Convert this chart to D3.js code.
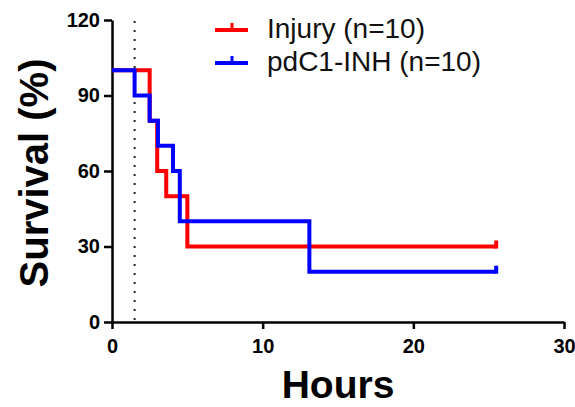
<!DOCTYPE html>
<html>
<head>
<meta charset="utf-8">
<script src="https://cdn.jsdelivr.net/npm/d3@7"></script>
<style>
  body { margin: 0; background: #fff; }
  svg { display: block; font-family: "Liberation Sans", Arial, sans-serif; }
</style>
</head>
<body>
<div id="chart"></div>
<script>
// ==== DATA ====
const injuryHours  = [0, 2.5, 3.0, 3.6, 5.0, 25.5];
const injuryValues = [100, 80, 60, 50, 30, 30];
const inhHours     = [0, 1.5, 2.5, 3.05, 4.05, 4.5, 13.1, 25.5];
const inhValues    = [100, 90, 80, 70, 60, 40, 20, 20];
const xTicks = [0, 10, 20, 30];
const yTicks = [0, 30, 60, 90, 120];
const markerHour = 1.5; // dotted vertical line
const seriesNames = ["Injury (n=10)", "pdC1-INH (n=10)"];
const seriesColors = ["#ff0000", "#0000ff"];

// ==== SIZE ====
const width = 575, height = 407;
const margin = { top: 20, right: 11, bottom: 85, left: 112 };

const x = d3.scaleLinear().domain([0, 30]).range([margin.left, width - margin.right]);
const y = d3.scaleLinear().domain([0, 120]).range([height - margin.bottom, margin.top]);

const svg = d3.select("#chart").append("svg")
  .attr("width", width)
  .attr("height", height);

// dotted marker line
svg.append("line")
  .attr("x1", x(markerHour)).attr("x2", x(markerHour))
  .attr("y1", y(120) + 1).attr("y2", y(0))
  .attr("stroke", "#222")
  .attr("stroke-width", 2)
  .attr("stroke-dasharray", "2 7");

// Axes
const gx = svg.append("g")
  .attr("transform", `translate(0,${y(0)})`)
  .call(d3.axisBottom(x).tickValues(xTicks).tickSize(7).tickSizeOuter(0).tickPadding(10));
const gy = svg.append("g")
  .attr("transform", `translate(${x(0)},0)`)
  .call(d3.axisLeft(y).tickValues(yTicks).tickSize(8).tickSizeOuter(0).tickPadding(4));

[gx, gy].forEach(g => {
  g.select(".domain").attr("stroke", "#000").attr("stroke-width", 2.5);
  g.selectAll(".tick line").attr("stroke", "#000").attr("stroke-width", 2.5);
  g.selectAll(".tick text")
    .attr("fill", "#000")
    .attr("font-family", "Liberation Sans, Arial, sans-serif")
    .attr("font-weight", "bold")
    .attr("font-size", 20);
});

// Axis labels
svg.append("text")
  .attr("x", (x(0) + x(30)) / 2)
  .attr("y", 398)
  .attr("text-anchor", "middle")
  .attr("font-weight", "bold")
  .attr("font-size", 39)
  .text("Hours");

svg.append("text")
  .attr("transform", `translate(48,${(y(0) + y(120)) / 2 + 2}) rotate(-90)`)
  .attr("text-anchor", "middle")
  .attr("font-weight", "bold")
  .attr("font-size", 40)
  .text("Survival (%)");

// Step lines
const step = d3.line()
  .x(d => x(d[0]))
  .y(d => y(d[1]))
  .curve(d3.curveStepAfter);

const series = [
  { hours: injuryHours, values: injuryValues },
  { hours: inhHours, values: inhValues }
];

series.forEach((s, i) => {
  const pts = s.hours.map((h, j) => [h, s.values[j]]);
  svg.append("path")
    .attr("d", step(pts))
    .attr("fill", "none")
    .attr("stroke", seriesColors[i])
    .attr("stroke-width", 4);
  // censored tick at the end
  const last = pts[pts.length - 1];
  svg.append("line")
    .attr("x1", x(last[0])).attr("x2", x(last[0]))
    .attr("y1", y(last[1]) + 2).attr("y2", y(last[1]) - 6)
    .attr("stroke", seriesColors[i])
    .attr("stroke-width", 4);
});

// Legend
const legend = svg.append("g").attr("transform", "translate(215,30)");
const rows = legend.selectAll("g.row")
  .data(seriesNames)
  .enter().append("g")
  .attr("transform", (d, i) => `translate(0,${i * 33})`);
rows.append("line")
  .attr("x1", 0).attr("x2", 33)
  .attr("stroke", (d, i) => seriesColors[i])
  .attr("stroke-width", 4);
rows.append("line")
  .attr("x1", 17).attr("x2", 17)
  .attr("y1", 0).attr("y2", -7)
  .attr("stroke", (d, i) => seriesColors[i])
  .attr("stroke-width", 3);
rows.append("text")
  .attr("x", 52)
  .attr("y", 8)
  .attr("font-size", 28)
  .attr("fill", "#111")
  .text(d => d);
</script>
</body>
</html>
